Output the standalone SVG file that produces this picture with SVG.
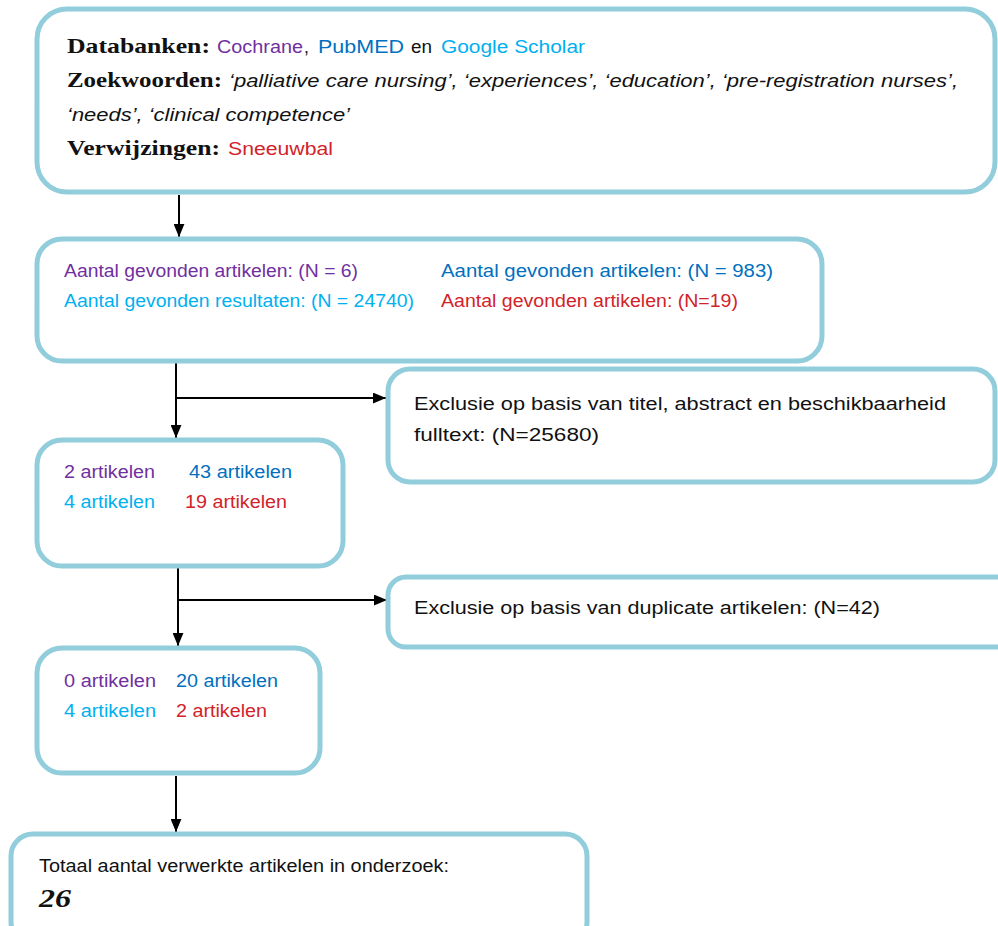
<svg xmlns="http://www.w3.org/2000/svg" width="998" height="926" viewBox="0 0 998 926">
<defs>
<marker id="ahL" viewBox="0 0 12 10" refX="12" refY="5" markerWidth="13" markerHeight="11" markerUnits="userSpaceOnUse" orient="auto">
<path d="M0,0 L12,5 L0,10 Z" fill="#000"/>
</marker>
</defs>
<style>
.box{fill:#fff;stroke:#92CDDC;stroke-width:5}
.s{font-family:"Liberation Sans","Open Sans",sans-serif;font-size:17.5px}
.h{font-family:"Liberation Serif","DejaVu Serif",serif;font-size:21px;font-weight:bold}
.i{font-style:italic}
.pu{fill:#7030A0}.bl{fill:#0070C0}.lb{fill:#00B0F0}.rd{fill:#D2232A}.bk{fill:#111}
.c{stroke:#000;stroke-width:2;fill:none}
</style>
<rect width="998" height="926" fill="#fff"/>
<g id="connectors">
<line class="c" x1="179" y1="195" x2="179" y2="237" marker-end="url(#ahL)"/>
<line class="c" x1="176" y1="362" x2="176" y2="438" marker-end="url(#ahL)"/>
<line class="c" x1="176" y1="398" x2="386" y2="398" marker-end="url(#ahL)"/>
<line class="c" x1="178" y1="567" x2="178" y2="646" marker-end="url(#ahL)"/>
<line class="c" x1="178" y1="600" x2="387" y2="600" marker-end="url(#ahL)"/>
<line class="c" x1="176" y1="776" x2="176" y2="832" marker-end="url(#ahL)"/>
</g>
<g id="n1">
<rect class="box" x="37" y="9" width="958" height="183" rx="30"/>
<text class="h bk" x="67" y="53" textLength="143" lengthAdjust="spacingAndGlyphs">Databanken:</text>
<text class="s pu" x="217" y="53" font-size="18.5" textLength="86" lengthAdjust="spacingAndGlyphs">Cochrane</text>
<text class="s bk" x="304" y="53" font-size="18.5">,</text>
<text class="s bl" x="318" y="53" font-size="18.5" textLength="86" lengthAdjust="spacingAndGlyphs">PubMED</text>
<text class="s bk" x="411" y="53" font-size="18.5" textLength="21" lengthAdjust="spacingAndGlyphs">en</text>
<text class="s lb" x="441" y="53" font-size="18.5" textLength="144" lengthAdjust="spacingAndGlyphs">Google Scholar</text>
<text class="h bk" x="67" y="87" textLength="155" lengthAdjust="spacingAndGlyphs">Zoekwoorden:</text>
<text class="s i bk" x="229" y="87" font-size="18.5" textLength="729" lengthAdjust="spacingAndGlyphs">‘palliative care nursing’, ‘experiences’, ‘education’, ‘pre-registration nurses’,</text>
<text class="s i bk" x="67" y="121" font-size="18.5" textLength="283" lengthAdjust="spacingAndGlyphs">‘needs’, ‘clinical competence’</text>
<text class="h bk" x="67" y="155" textLength="153" lengthAdjust="spacingAndGlyphs">Verwijzingen:</text>
<text class="s rd" x="228" y="155" font-size="18.5" textLength="105" lengthAdjust="spacingAndGlyphs">Sneeuwbal</text>
</g>
<g id="n2">
<rect class="box" x="37" y="239" width="785" height="122" rx="25"/>
<text class="s pu" x="64" y="277" textLength="294" lengthAdjust="spacingAndGlyphs">Aantal gevonden artikelen: (N = 6)</text>
<text class="s lb" x="64" y="307" textLength="350" lengthAdjust="spacingAndGlyphs">Aantal gevonden resultaten: (N = 24740)</text>
<text class="s bl" x="441" y="277" textLength="332" lengthAdjust="spacingAndGlyphs">Aantal gevonden artikelen: (N = 983)</text>
<text class="s rd" x="441" y="307" textLength="297" lengthAdjust="spacingAndGlyphs">Aantal gevonden artikelen: (N=19)</text>
</g>
<g id="n3">
<rect class="box" x="388" y="369" width="607" height="113" rx="22"/>
<text class="s bk" x="414" y="410" font-size="18.5" textLength="532" lengthAdjust="spacingAndGlyphs">Exclusie op basis van titel, abstract en beschikbaarheid</text>
<text class="s bk" x="414" y="441" font-size="18.5" textLength="185" lengthAdjust="spacingAndGlyphs">fulltext: (N=25680)</text>
</g>
<g id="n4">
<rect class="box" x="37" y="440" width="306" height="126" rx="25"/>
<text class="s pu" x="64" y="478" textLength="91" lengthAdjust="spacingAndGlyphs">2 artikelen</text>
<text class="s bl" x="189" y="478" textLength="103" lengthAdjust="spacingAndGlyphs">43 artikelen</text>
<text class="s lb" x="64" y="508" textLength="91" lengthAdjust="spacingAndGlyphs">4 artikelen</text>
<text class="s rd" x="185" y="508" textLength="102" lengthAdjust="spacingAndGlyphs">19 artikelen</text>
</g>
<g id="n5">
<rect class="box" x="388" y="577" width="640" height="70" rx="18"/>
<text class="s bk" x="414" y="614" font-size="18.5" textLength="466" lengthAdjust="spacingAndGlyphs">Exclusie op basis van duplicate artikelen: (N=42)</text>
</g>
<g id="n6">
<rect class="box" x="37" y="648" width="283" height="125" rx="25"/>
<text class="s pu" x="64" y="687" textLength="92" lengthAdjust="spacingAndGlyphs">0 artikelen</text>
<text class="s bl" x="176" y="687" textLength="102" lengthAdjust="spacingAndGlyphs">20 artikelen</text>
<text class="s lb" x="64" y="717" textLength="92" lengthAdjust="spacingAndGlyphs">4 artikelen</text>
<text class="s rd" x="176" y="717" textLength="91" lengthAdjust="spacingAndGlyphs">2 artikelen</text>
</g>
<g id="n7">
<rect class="box" x="11" y="834" width="576" height="110" rx="22"/>
<text class="s bk" x="39" y="872" font-size="16" textLength="410" lengthAdjust="spacingAndGlyphs">Totaal aantal verwerkte artikelen in onderzoek:</text>
<text x="39" y="907" font-family="'Liberation Serif','DejaVu Serif',serif" font-size="25" font-style="italic" font-weight="bold" fill="#111" textLength="32" lengthAdjust="spacingAndGlyphs">26</text>
</g>
</svg>
